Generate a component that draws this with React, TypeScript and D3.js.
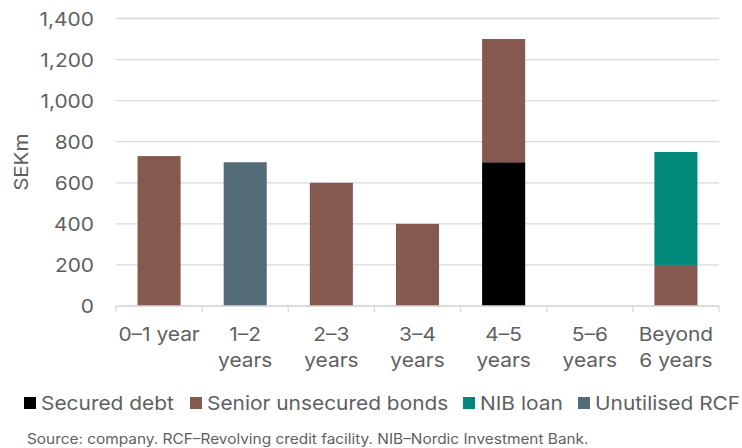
import React from 'react';
import * as d3 from 'd3';

const categories = ['0–1 year', '1–2 years', '2–3 years', '3–4 years', '4–5 years', '5–6 years', 'Beyond 6 years'];
const labelLines = [['0–1 year'], ['1–2', 'years'], ['2–3', 'years'], ['3–4', 'years'], ['4–5', 'years'], ['5–6', 'years'], ['Beyond', '6 years']];
const securedDebt = [0, 0, 0, 0, 700, 0, 0];
const seniorBonds = [730, 0, 600, 400, 600, 0, 200];
const nibLoan = [0, 0, 0, 0, 0, 0, 550];
const unutilisedRcf = [0, 700, 0, 0, 0, 0, 0];
const yTicks = [0, 200, 400, 600, 800, 1000, 1200, 1400];

const seriesKeys = ['Secured debt', 'Senior unsecured bonds', 'NIB loan', 'Unutilised RCF'];
const seriesColors = ['#000000', '#855850', '#00897b', '#546b78'];
const legendX = [24, 190, 463, 578];

const W = 742;
const H = 448;
const font = 'Inter, Roboto, sans-serif';
const textColor = '#5f5f5f';
const SX = 1.1; // reference glyphs run a little wider than Inter

function T({ x, y, anchor = 'start', size = 19, children }: any) {
  return (
    <text transform={`translate(${x},${y}) scale(${SX},1)`} textAnchor={anchor} fontSize={size} fill={textColor}>
      {children}
    </text>
  );
}

export default function App() {
  const x = d3.scaleBand().domain(categories).range([116, 719]).paddingInner(0.5).paddingOuter(0.25);
  const band = d3.scaleBand().domain(categories).range([116, 719]);
  const y = d3.scaleLinear().domain([0, 1400]).range([306, 18.5]);

  const table = categories.map((c, i) => ({
    cat: c,
    'Secured debt': securedDebt[i],
    'Senior unsecured bonds': seniorBonds[i],
    'NIB loan': nibLoan[i],
    'Unutilised RCF': unutilisedRcf[i],
  }));
  const stacked = d3.stack<any>().keys(seriesKeys)(table);
  const fmt = d3.format(',');

  return (
    <svg width={W} height={H} style={{ position: 'absolute', left: 0, top: 0, background: '#fff' }} fontFamily={font}>
      {yTicks.map(t => (
        <line key={t} x1={116} x2={719} y1={y(t)} y2={y(t)} stroke="#d9d9d9" strokeWidth={1.3} />
      ))}
      {yTicks.map(t => (
        <T key={'l' + t} x={94} y={y(t) + 7} anchor="end">{fmt(t)}</T>
      ))}
      <text transform={`translate(28,${y(700)}) rotate(-90) scale(1.08,1)`} textAnchor="middle" fontSize={19} fill={textColor}>SEKm</text>
      {stacked.map((s, si) => (
        <g key={s.key} fill={seriesColors[si]}>
          {s.map((d, i) => d[1] - d[0] > 0 ? (
            <rect key={i} x={x(categories[i])} width={x.bandwidth()} y={y(d[1])} height={y(d[0]) - y(d[1])} />
          ) : null)}
        </g>
      ))}
      <line x1={116} x2={719} y1={y(0)} y2={y(0)} stroke="#d9d9d9" strokeWidth={1.3} />
      {[...categories.map(c => band(c) as number), 719].map((bx, i) => (
        <line key={'t' + i} x1={bx} x2={bx} y1={y(0)} y2={y(0) + 6} stroke="#d9d9d9" strokeWidth={1.3} />
      ))}
      {categories.map((c, i) => (
        <g key={'x' + c}>
          {labelLines[i].map((ln, li) => (
            <T key={li} x={(band(c) as number) + band.bandwidth() / 2} y={341 + li * 26} anchor="middle">{ln}</T>
          ))}
        </g>
      ))}
      {seriesKeys.map((k, i) => (
        <g key={k} transform={`translate(${legendX[i]},0)`}>
          <rect x={0} y={397} width={12} height={12} fill={seriesColors[i]} />
          <T x={17} y={410}>{k}</T>
        </g>
      ))}
      <T x={27} y={444} size={14}>Source: company. RCF–Revolving credit facility. NIB–Nordic Investment Bank.</T>
    </svg>
  );
}
